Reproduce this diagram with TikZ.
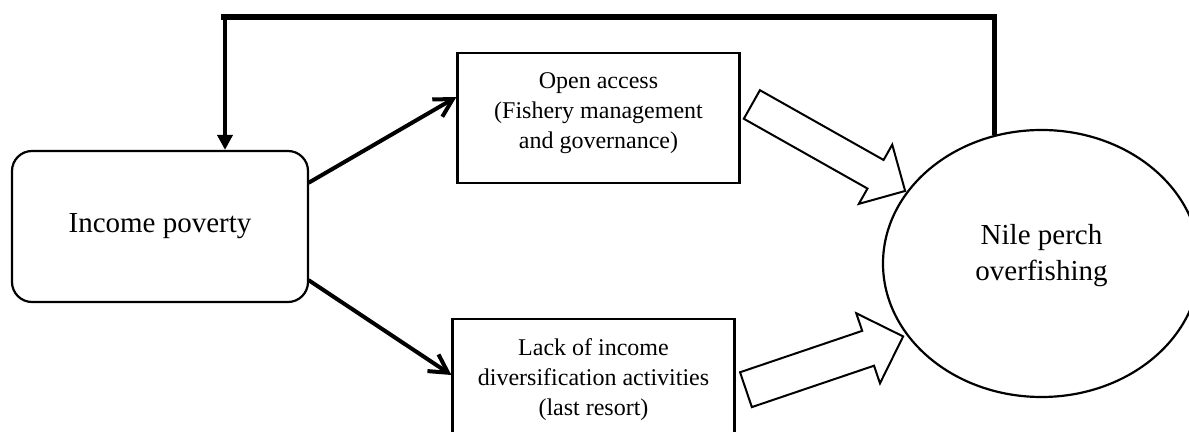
\documentclass[tikz,border=0pt]{standalone}
\usepackage{fontspec}
\setmainfont{Liberation Serif}
\usetikzlibrary{arrows.meta,shapes.geometric,shapes.arrows}
\begin{document}
\begin{tikzpicture}[x=0.5pt,y=-0.5pt,
  bigfont/.style={font=\fontsize{14.5}{18}\selectfont},
  smallfont/.style={font=\fontsize{12}{15}\selectfont},
  causebox/.style={draw,line width=1.1pt,minimum width=141pt,minimum height=65pt,
    inner sep=0pt,align=center,text depth=7pt,smallfont},
  link/.style={line width=2pt,line cap=round,-{Straight Barb[length=9pt,width=10pt]}},
  fatarrow/.style={single arrow,draw,line width=1pt,inner xsep=0pt,
    single arrow tip angle=90}]
\useasboundingbox (0,0) rectangle (1189,432);
\clip (0,0) rectangle (1189,432);

\node[draw,line width=1.1pt,rounded corners=10pt,minimum width=148pt,minimum height=75.5pt,bigfont] (poverty) at (160,226.5) {Income poverty};
\node[causebox] (open) at (598.5,118) {Open access\\(Fishery management\\and governance)};
\node[causebox] (lack) at (593.5,384) {Lack of income\\diversification activities\\(last resort)};
\node[draw,ellipse,line width=1.1pt,minimum width=158.5pt,minimum height=133.5pt,
  align=center,text depth=10.7pt,bigfont] (nile) at (1041.5,263.5) {Nile perch\\overfishing};

\draw[link] ([yshift=22pt]poverty.east) -- ([yshift=10.5pt]open.west);
\draw[link] ([yshift=-27pt]poverty.east) -- ([yshift=4.5pt]lack.west);

% feedback from overfishing back to poverty
\coordinate (corner) at (221,17);
\draw[line width=2.6pt] (nile.110) |- (corner);
\draw[line width=2pt,-{Triangle[length=7.5pt,width=7.5pt]}] ([xshift=2pt]corner) -- ([xshift=2pt]corner |- poverty.north);

\coordinate (openout) at (751,104);
\coordinate (lackout) at (745,390);
\path (openout) -- node[fatarrow,pos=0,sloped,anchor=tail,minimum height=88pt,
  inner ysep=7.7pt,single arrow head extend=8.8pt] (fatopen) {} (nile.152);
\path (lackout) -- node[fatarrow,pos=0,sloped,anchor=tail,minimum height=83pt,
  inner ysep=8.7pt,single arrow head extend=9.3pt] (fatlack) {} (nile.208);
\end{tikzpicture}
\end{document}
